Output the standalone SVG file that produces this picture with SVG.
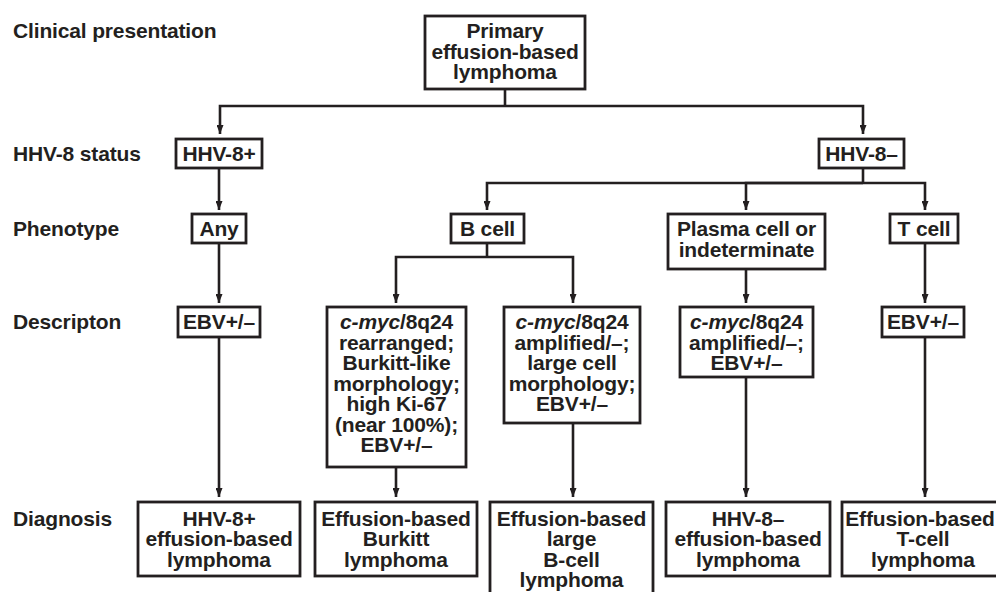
<svg xmlns="http://www.w3.org/2000/svg" width="996" height="592" viewBox="0 0 996 592">
<style>
text{font-family:"Liberation Sans",Arial,Helvetica,sans-serif;font-weight:bold;font-size:21px;letter-spacing:-0.15px;fill:#231f20}
.c{text-anchor:middle}
.box{fill:#fff;stroke:#231f20;stroke-width:2.8}
.ln{fill:none;stroke:#231f20;stroke-width:2.6}
.i{font-style:italic}
</style>
<defs>
<marker id="ah" markerUnits="userSpaceOnUse" markerWidth="9" markerHeight="7" refX="9" refY="3.5" orient="auto">
<path d="M0,0 L9,3.5 L0,7 z" fill="#231f20"/>
</marker>
</defs>
<rect width="996" height="592" fill="#fff"/>
<g id="labels">
<text x="13" y="38">Clinical presentation</text>
<text x="13" y="161">HHV-8 status</text>
<text x="13" y="236">Phenotype</text>
<text x="13" y="329">Descripton</text>
<text x="13" y="526">Diagnosis</text>
</g>
<g id="connectors">
<path class="ln" d="M505,89 V106"/>
<path class="ln" d="M505,106 H220 V134" marker-end="url(#ah)"/>
<path class="ln" d="M505,106 H863 V134" marker-end="url(#ah)"/>
<path class="ln" d="M219,168 V210" marker-end="url(#ah)"/>
<path class="ln" d="M863,168 V183"/>
<path class="ln" d="M863,183 H487 V210" marker-end="url(#ah)"/>
<path class="ln" d="M863,183 H746 V210" marker-end="url(#ah)"/>
<path class="ln" d="M863,183 H925 V210" marker-end="url(#ah)"/>
<path class="ln" d="M219,243 V303" marker-end="url(#ah)"/>
<path class="ln" d="M487,243 V257"/>
<path class="ln" d="M487,257 H396 V303" marker-end="url(#ah)"/>
<path class="ln" d="M487,257 H573 V303" marker-end="url(#ah)"/>
<path class="ln" d="M746,269 V303" marker-end="url(#ah)"/>
<path class="ln" d="M925,243 V303" marker-end="url(#ah)"/>
<path class="ln" d="M219,337 V497" marker-end="url(#ah)"/>
<path class="ln" d="M396,467 V497" marker-end="url(#ah)"/>
<path class="ln" d="M573,423 V497" marker-end="url(#ah)"/>
<path class="ln" d="M746,377 V497" marker-end="url(#ah)"/>
<path class="ln" d="M925,337 V497" marker-end="url(#ah)"/>
</g>
<g id="n-primary">
<rect class="box" x="425" y="16" width="160" height="73"/>
<text class="c" x="505" y="38">Primary</text>
<text class="c" x="505" y="58.5">effusion-based</text>
<text class="c" x="505" y="79">lymphoma</text>
</g>
<g id="n-hhv8pos">
<rect class="box" x="176" y="139" width="86" height="29"/>
<text class="c" x="219" y="161">HHV-8+</text>
</g>
<g id="n-hhv8neg">
<rect class="box" x="819" y="139" width="85" height="29"/>
<text class="c" x="861.5" y="161">HHV-8–</text>
</g>
<g id="n-any">
<rect class="box" x="192" y="214" width="54" height="29"/>
<text class="c" x="219" y="236">Any</text>
</g>
<g id="n-bcell">
<rect class="box" x="451" y="214" width="73" height="29"/>
<text class="c" x="487.5" y="236">B cell</text>
</g>
<g id="n-plasma">
<rect class="box" x="668" y="214" width="157" height="55"/>
<text class="c" x="746.5" y="236">Plasma cell or</text>
<text class="c" x="746.5" y="256.5">indeterminate</text>
</g>
<g id="n-tcell">
<rect class="box" x="890" y="214" width="68" height="29"/>
<text class="c" x="924" y="236">T cell</text>
</g>
<g id="n-ebv1">
<rect class="box" x="178" y="307" width="82" height="30"/>
<text class="c" x="219" y="329">EBV+/–</text>
</g>
<g id="n-burkitt-desc">
<rect class="box" x="327" y="307" width="139" height="160"/>
<text class="c" x="396.5" y="329"><tspan class="i">c-myc</tspan>/8q24</text>
<text class="c" x="396.5" y="349.5">rearranged;</text>
<text class="c" x="396.5" y="370">Burkitt-like</text>
<text class="c" x="396.5" y="390.5">morphology;</text>
<text class="c" x="396.5" y="411">high Ki-67</text>
<text class="c" x="396.5" y="431.5">(near 100%);</text>
<text class="c" x="396.5" y="452">EBV+/–</text>
</g>
<g id="n-large-desc">
<rect class="box" x="504" y="307" width="136" height="116"/>
<text class="c" x="572" y="329"><tspan class="i">c-myc</tspan>/8q24</text>
<text class="c" x="572" y="349.5">amplified/–;</text>
<text class="c" x="572" y="370">large cell</text>
<text class="c" x="572" y="390.5">morphology;</text>
<text class="c" x="572" y="411">EBV+/–</text>
</g>
<g id="n-plasma-desc">
<rect class="box" x="680" y="307" width="133" height="70"/>
<text class="c" x="746.5" y="329"><tspan class="i">c-myc</tspan>/8q24</text>
<text class="c" x="746.5" y="349.5">amplified/–;</text>
<text class="c" x="746.5" y="370">EBV+/–</text>
</g>
<g id="n-ebv2">
<rect class="box" x="882" y="307" width="82" height="30"/>
<text class="c" x="923" y="329">EBV+/–</text>
</g>
<g id="n-dx-hhv8pos">
<rect class="box" x="138" y="502" width="162" height="74"/>
<text class="c" x="219" y="525.5">HHV-8+</text>
<text class="c" x="219" y="546">effusion-based</text>
<text class="c" x="219" y="566.5">lymphoma</text>
</g>
<g id="n-dx-burkitt">
<rect class="box" x="315" y="502" width="162" height="74"/>
<text class="c" x="396" y="525.5">Effusion-based</text>
<text class="c" x="396" y="546">Burkitt</text>
<text class="c" x="396" y="566.5">lymphoma</text>
</g>
<g id="n-dx-large">
<rect class="box" x="490" y="502" width="163" height="100"/>
<text class="c" x="571.5" y="525.5">Effusion-based</text>
<text class="c" x="571.5" y="546">large</text>
<text class="c" x="571.5" y="566.5">B-cell</text>
<text class="c" x="571.5" y="587">lymphoma</text>
</g>
<g id="n-dx-hhv8neg">
<rect class="box" x="666" y="502" width="164" height="74"/>
<text class="c" x="748" y="525.5">HHV-8–</text>
<text class="c" x="748" y="546">effusion-based</text>
<text class="c" x="748" y="566.5">lymphoma</text>
</g>
<g id="n-dx-tcell">
<rect class="box" x="842" y="502" width="166" height="74"/>
<text class="c" x="920" y="525.5">Effusion-based</text>
<text class="c" x="923" y="546">T-cell</text>
<text class="c" x="923" y="566.5">lymphoma</text>
</g>
</svg>
